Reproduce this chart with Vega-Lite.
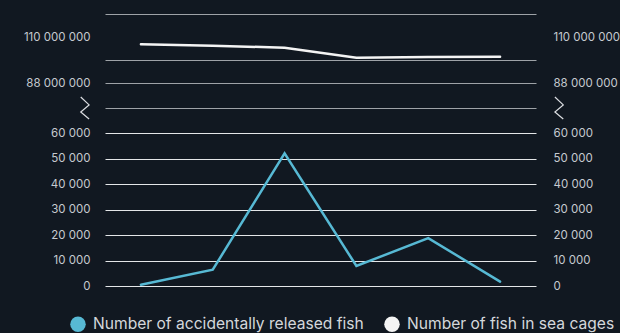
{
  "$schema": "https://vega.github.io/schema/vega-lite/v6.json",
  "background": "#111821",
  "padding": {"left": 23, "top": 14, "right": 0, "bottom": 0},
  "config": {
    "view": {"stroke": null},
    "axis": {
      "domain": false,
      "ticks": false,
      "title": null,
      "labelFont": "Inter",
      "labelFontSize": 11.5,
      "labelColor": "#c6cad0"
    }
  },
  "datasets": {
    "fish": [
      {"year": 2018, "series": "Number of accidentally released fish", "value": 500},
      {"year": 2019, "series": "Number of accidentally released fish", "value": 6400},
      {"year": 2020, "series": "Number of accidentally released fish", "value": 52200},
      {"year": 2021, "series": "Number of accidentally released fish", "value": 7850},
      {"year": 2022, "series": "Number of accidentally released fish", "value": 18850},
      {"year": 2023, "series": "Number of accidentally released fish", "value": 1700},
      {"year": 2018, "series": "Number of fish in sea cages", "value": 106500000},
      {"year": 2019, "series": "Number of fish in sea cages", "value": 105800000},
      {"year": 2020, "series": "Number of fish in sea cages", "value": 104900000},
      {"year": 2021, "series": "Number of fish in sea cages", "value": 100100000},
      {"year": 2022, "series": "Number of fish in sea cages", "value": 100400000},
      {"year": 2023, "series": "Number of fish in sea cages", "value": 100600000}
    ]
  },
  "data": {"name": "fish"},
  "bounds": "flush",
  "spacing": 25,
  "resolve": {"scale": {"color": "shared"}},
  "vconcat": [
    {
      "width": 431,
      "height": 69,
      "transform": [{"filter": "datum.series === 'Number of fish in sea cages'"}],
      "encoding": {
        "x": {"field": "year", "type": "ordinal", "axis": null}
      },
      "layer": [
        {
          "mark": {"type": "line", "strokeWidth": 2.5, "strokeCap": "round"},
          "encoding": {
            "y": {
              "field": "value",
              "type": "quantitative",
              "scale": {"domain": [88000000, 121000000], "nice": false, "zero": false},
              "axis": {
                "orient": "left",
                "values": [88000000, 99000000, 110000000, 121000000],
                "labelExpr": "datum.value == 88000000 || datum.value == 110000000 ? replace(format(datum.value, ',d'), regexp(',', 'g'), ' ') : ''",
                "labelPadding": 15,
                "grid": true,
                "gridColor": "#9ea2a7",
                "gridOpacity": {"condition": {"test": "datum.value == 110000000", "value": 0}, "value": 1}
              }
            },
            "color": {
              "field": "series",
              "type": "nominal",
              "scale": {
                "domain": ["Number of accidentally released fish", "Number of fish in sea cages"],
                "range": ["#57b9d4", "#f4f4f4"]
              },
              "legend": {
                "orient": "none",
                "direction": "horizontal",
                "legendX": -35,
                "legendY": 302,
                "title": null,
                "padding": 0,
                "symbolType": "circle",
                "symbolSize": 240,
                "symbolStrokeWidth": 0,
                "labelFont": "Inter",
                "labelFontSize": 15.6,
                "labelColor": "#d4d7db",
                "labelOffset": 7,
                "columnPadding": 20,
                "labelLimit": 400,
                "encode": {
                  "symbols": {
                    "update": {
                      "fill": {"scale": "color", "field": "value"},
                      "opacity": {"value": 1}
                    }
                  }
                }
              }
            }
          }
        },
        {
          "mark": {"type": "line", "opacity": 0},
          "encoding": {
            "y": {
              "field": "value",
              "type": "quantitative",
              "axis": {
                "orient": "right",
                "values": [88000000, 110000000],
                "labelExpr": "replace(format(datum.value, ',d'), regexp(',', 'g'), ' ')",
                "labelPadding": 17,
                "grid": false
              }
            }
          }
        }
      ],
      "resolve": {"axis": {"y": "independent"}}
    },
    {
      "width": 431,
      "height": 178,
      "transform": [{"filter": "datum.series === 'Number of accidentally released fish'"}],
      "encoding": {
        "x": {"field": "year", "type": "ordinal", "axis": null}
      },
      "layer": [
        {
          "mark": {"type": "line", "strokeWidth": 2.5, "strokeCap": "round"},
          "encoding": {
            "y": {
              "field": "value",
              "type": "quantitative",
              "scale": {"domain": [0, 70000], "nice": false},
              "axis": {
                "orient": "left",
                "values": [0, 10000, 20000, 30000, 40000, 50000, 60000, 70000],
                "labelExpr": "datum.value == 70000 ? '' : replace(format(datum.value, ',d'), regexp(',', 'g'), ' ')",
                "labelPadding": 15,
                "grid": true,
                "gridColor": {"condition": {"test": "datum.value == 70000", "value": "#9ea2a7"}, "value": "#e4e6e8"}
              }
            },
            "color": {"field": "series", "type": "nominal"}
          }
        },
        {
          "transform": [{"filter": "datum.year == 2018"}],
          "mark": {
            "type": "point",
            "shape": "M-0.38,-1L0.38,-0.28L-0.38,0.36L0.38,1",
            "filled": false,
            "size": 484,
            "stroke": "#dcdee2",
            "strokeWidth": 1.2,
            "opacity": 1,
            "xOffset": -56
          },
          "encoding": {
            "y": {"datum": 70000, "type": "quantitative", "axis": null}
          }
        },
        {
          "transform": [{"filter": "datum.year == 2023"}],
          "mark": {
            "type": "point",
            "shape": "M-0.38,-1L0.38,-0.28L-0.38,0.36L0.38,1",
            "filled": false,
            "size": 484,
            "stroke": "#dcdee2",
            "strokeWidth": 1.2,
            "opacity": 1,
            "xOffset": 59
          },
          "encoding": {
            "y": {
              "datum": 70000,
              "type": "quantitative",
              "axis": {
                "orient": "right",
                "values": [0, 10000, 20000, 30000, 40000, 50000, 60000],
                "labelExpr": "replace(format(datum.value, ',d'), regexp(',', 'g'), ' ')",
                "labelPadding": 17,
                "grid": false
              }
            }
          }
        }
      ],
      "resolve": {"axis": {"y": "independent"}}
    }
  ]
}
